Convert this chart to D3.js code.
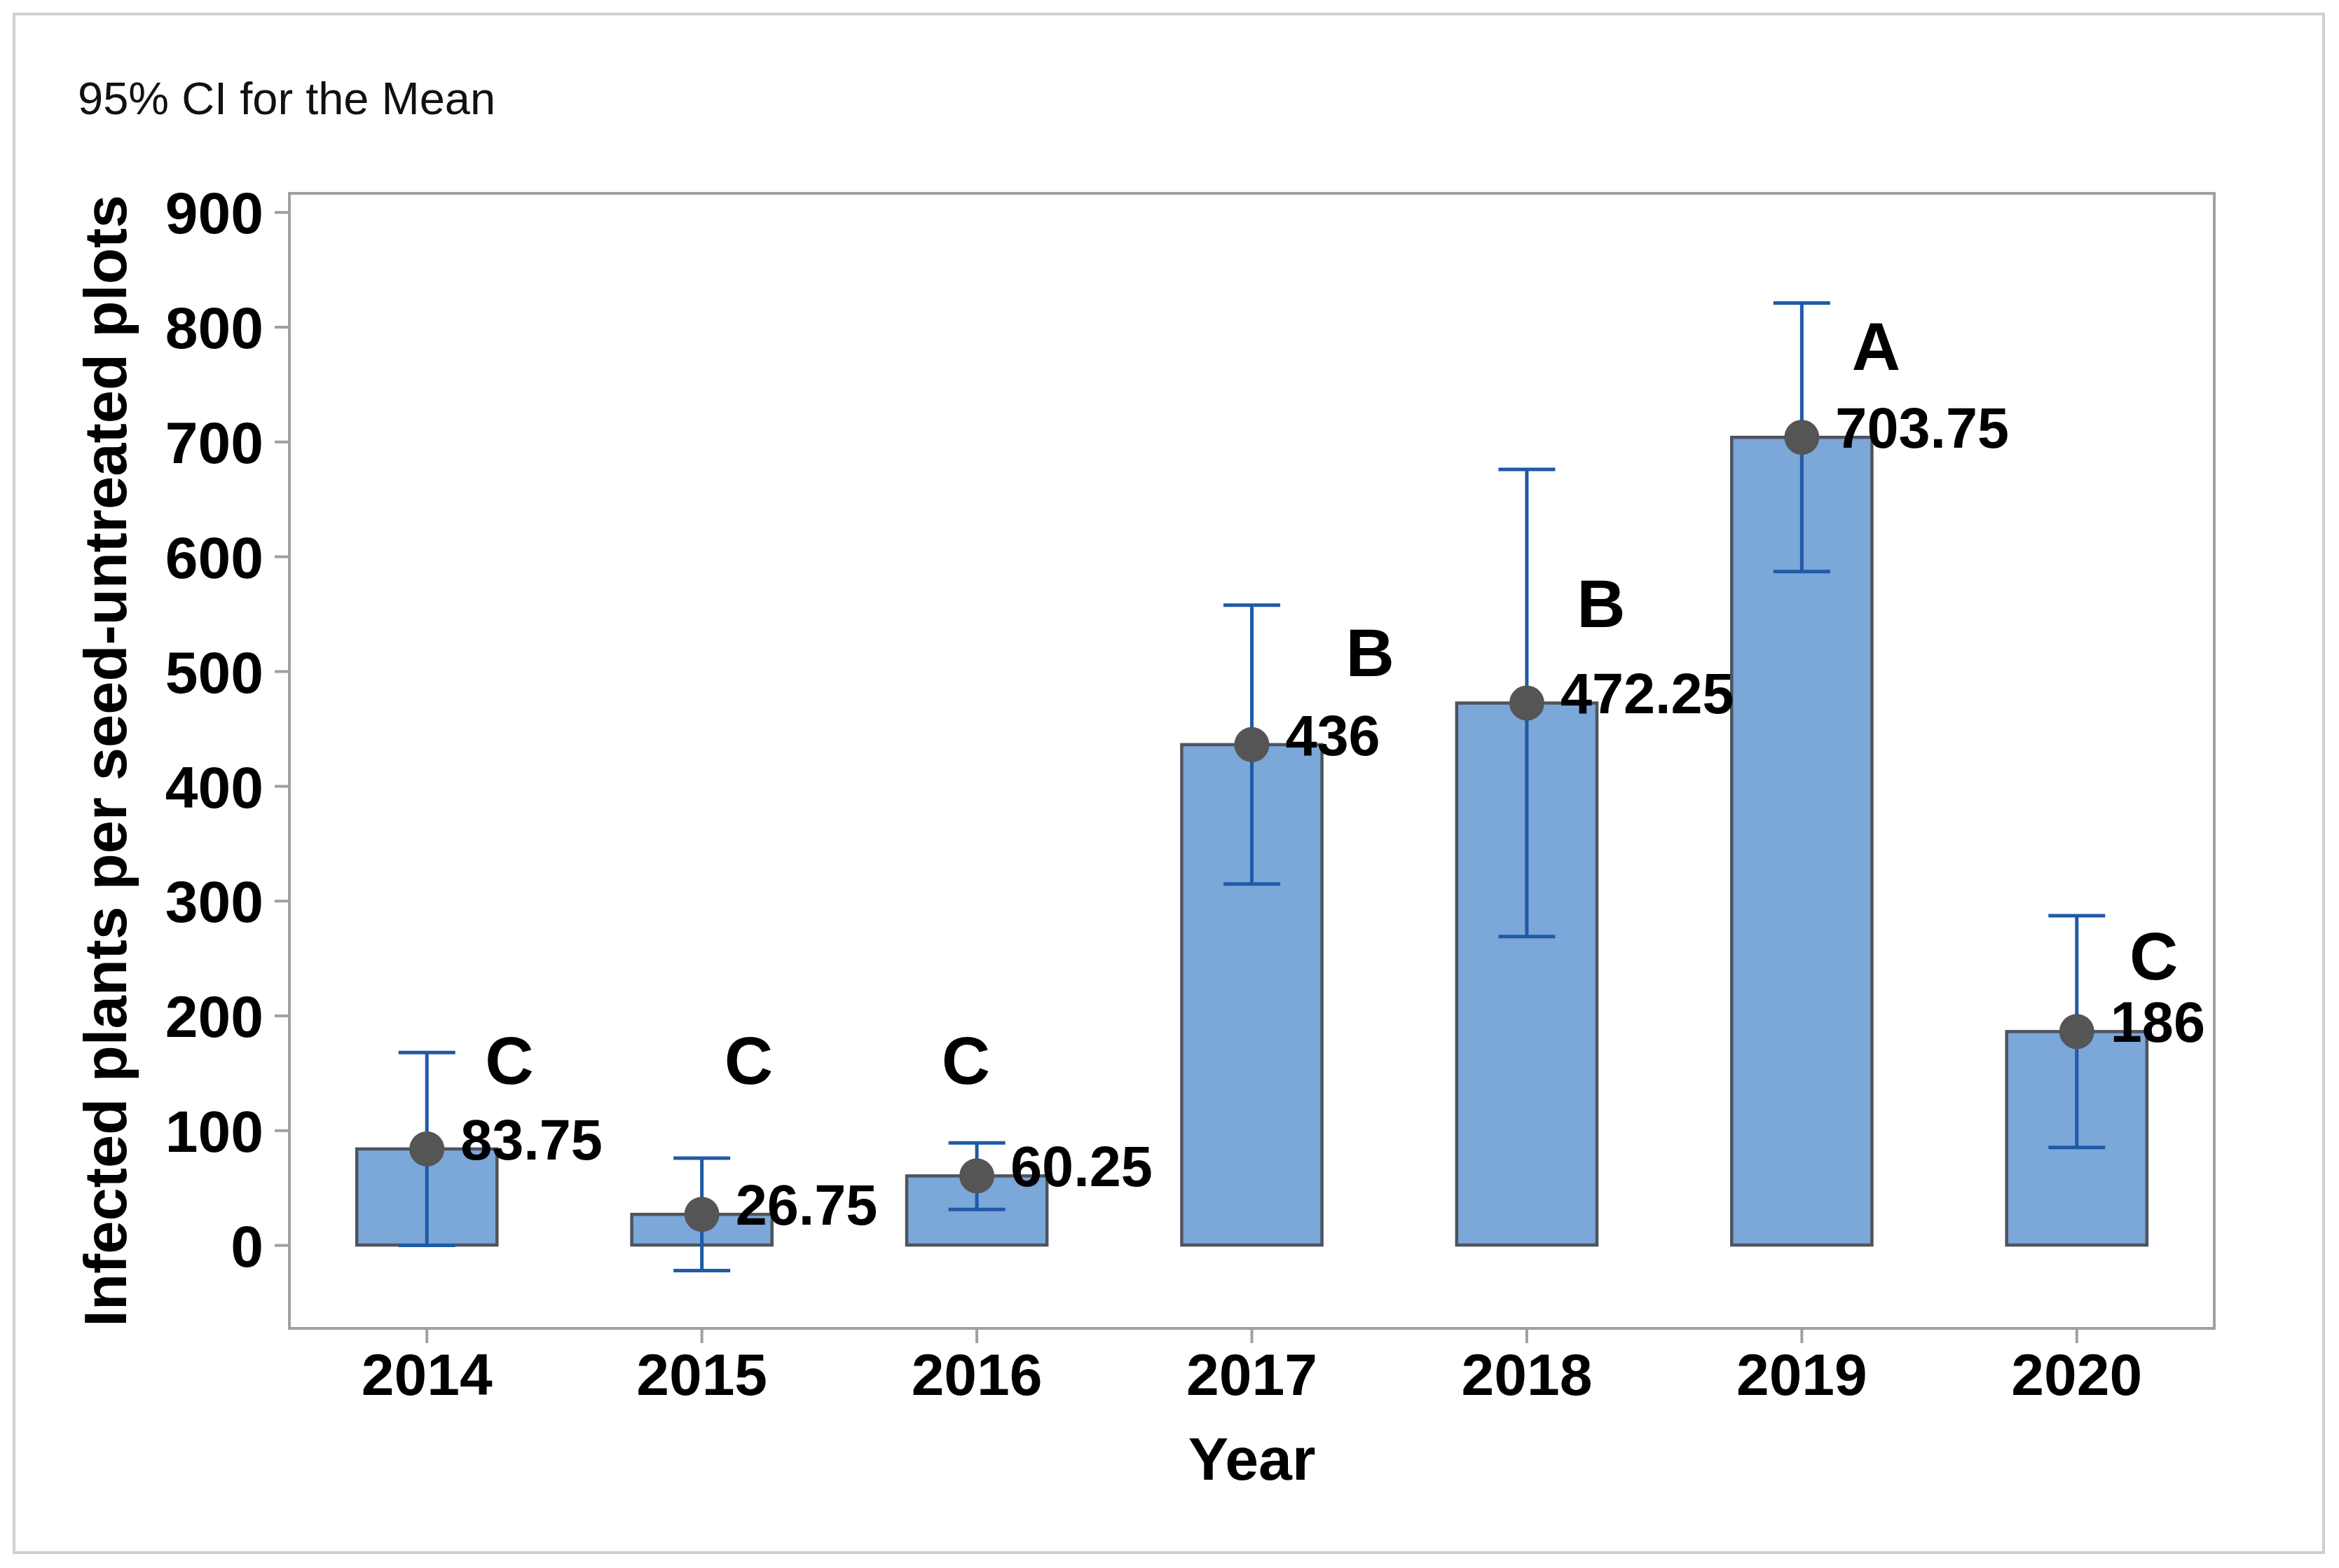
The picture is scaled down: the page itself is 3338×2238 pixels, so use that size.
<!DOCTYPE html>
<html>
<head>
<meta charset="utf-8">
<script src="https://cdn.jsdelivr.net/npm/d3@7"></script>
<style>
  body { margin: 0; background: #fff; }
  svg { display: block; font-family: "Liberation Sans", Arial, sans-serif; }
</style>
</head>
<body>
<div class="chartDiv"></div>
<script>
// data
var years = ["2014", "2015", "2016", "2017", "2018", "2019", "2020"];
var means = [83.75, 26.75, 60.25, 436, 472.25, 703.75, 186];
var ciLow = [-0.25, -22.25, 31, 314.5, 268.75, 586.75, 85];
var ciHigh = [167.75, 75.75, 89, 557.5, 675.75, 820.75, 287];
var groups = ["C", "C", "C", "B", "B", "A", "C"];
// where each group letter sits (value on y, shift in steps on x)
var letterAt = [162, 162, 162, 517, 560, 784, 253];
var letterShift = [0.30, 0.17, -0.04, 0.43, 0.27, 0.27, 0.28];
var yTicks = [0, 100, 200, 300, 400, 500, 600, 700, 800, 900];

var W = 3338, H = 2238;
var margin = { top: 276, right: 178, bottom: 342, left: 413 };
var width = W - margin.left - margin.right;
var height = H - margin.top - margin.bottom;

var svg = d3.select(".chartDiv")
  .append("svg")
  .attr("width", W)
  .attr("height", H);

// outer frame
svg.append("rect")
  .attr("x", 20).attr("y", 20)
  .attr("width", 3296).attr("height", 2196)
  .attr("fill", "#fff")
  .attr("stroke", "#cfcfcf")
  .attr("stroke-width", 4);

svg.append("text")
  .attr("x", 111).attr("y", 163)
  .style("font-size", "65px")
  .attr("fill", "#111")
  .text("95% CI for the Mean");

var g = svg.append("g")
  .attr("transform", "translate(" + margin.left + "," + margin.top + ")");

// scales
var xScale = d3.scaleBand()
  .domain(years)
  .range([0, width])
  .paddingInner(0.49)
  .paddingOuter(0.245);

var yScale = d3.scaleLinear()
  .domain([-72.6, 916.3])
  .range([height, 0]);

var step = xScale.step();
var cx = function(i) { return xScale(years[i]) + xScale.bandwidth() / 2; };

// axes
var xAxis = g.append("g")
  .attr("transform", "translate(0," + height + ")")
  .call(d3.axisBottom(xScale).tickSize(21).tickPadding(14));

var yAxis = g.append("g")
  .call(d3.axisLeft(yScale).tickValues(yTicks).tickSize(21).tickPadding(16));

[xAxis, yAxis].forEach(function(a) {
  a.select(".domain").remove();
  a.selectAll(".tick line").attr("stroke", "#a0a0a0").attr("stroke-width", 4);
  a.selectAll(".tick text")
    .attr("fill", "#000")
    .style("font-size", "84px")
    .style("font-weight", "bold")
    .style("font-family", "'Liberation Sans', Arial, sans-serif");
});
xAxis.selectAll(".tick text").attr("dy", "0.71em");
yAxis.selectAll(".tick text").attr("dy", "0.36em");

// plot frame
g.append("rect")
  .attr("x", 0).attr("y", 0)
  .attr("width", width).attr("height", height)
  .attr("fill", "none")
  .attr("stroke", "#a0a0a0")
  .attr("stroke-width", 4);

// bars
g.selectAll(".bar")
  .data(means)
  .enter()
  .append("rect")
  .attr("class", "bar")
  .attr("x", (d, i) => xScale(years[i]))
  .attr("y", d => yScale(d))
  .attr("width", xScale.bandwidth())
  .attr("height", d => yScale(0) - yScale(d))
  .attr("fill", "#7ba7d9")
  .attr("stroke", "#4e545c")
  .attr("stroke-width", 4.5);

// error bars
var capW = 81;
var eb = g.append("g").attr("stroke", "#1f5aa6").attr("stroke-width", 5);
eb.selectAll(".stem").data(means).enter().append("line")
  .attr("x1", (d, i) => cx(i)).attr("x2", (d, i) => cx(i))
  .attr("y1", (d, i) => yScale(ciLow[i]))
  .attr("y2", (d, i) => yScale(ciHigh[i]));
eb.selectAll(".capHi").data(means).enter().append("line")
  .attr("x1", (d, i) => cx(i) - capW / 2).attr("x2", (d, i) => cx(i) + capW / 2)
  .attr("y1", (d, i) => yScale(ciHigh[i])).attr("y2", (d, i) => yScale(ciHigh[i]));
eb.selectAll(".capLo").data(means).enter().append("line")
  .attr("x1", (d, i) => cx(i) - capW / 2).attr("x2", (d, i) => cx(i) + capW / 2)
  .attr("y1", (d, i) => yScale(ciLow[i])).attr("y2", (d, i) => yScale(ciLow[i]));

// mean dots
g.selectAll(".dot")
  .data(means)
  .enter()
  .append("circle")
  .attr("cx", (d, i) => cx(i))
  .attr("cy", d => yScale(d))
  .attr("r", 25)
  .attr("fill", "#555555");

// mean labels
g.selectAll(".val")
  .data(means)
  .enter()
  .append("text")
  .attr("x", (d, i) => cx(i) + 48)
  .attr("y", d => yScale(d) + 15)
  .style("font-size", "81px")
  .style("font-weight", "bold")
  .attr("fill", "#000")
  .text(d => d);

// group letters
g.selectAll(".grp")
  .data(groups)
  .enter()
  .append("text")
  .attr("x", (d, i) => cx(i) + letterShift[i] * step)
  .attr("y", (d, i) => yScale(letterAt[i]) + 35)
  .attr("text-anchor", "middle")
  .style("font-size", "96px")
  .style("font-weight", "bold")
  .attr("fill", "#000")
  .text(d => d);

// axis titles
svg.append("text")
  .attr("x", margin.left + width / 2)
  .attr("y", 2112)
  .attr("text-anchor", "middle")
  .style("font-size", "86px")
  .style("font-weight", "bold")
  .text("Year");

svg.append("text")
  .attr("transform", "translate(180," + (margin.top + height / 2) + ") rotate(-90)")
  .attr("text-anchor", "middle")
  .style("font-size", "85px")
  .style("font-weight", "bold")
  .text("Infected plants per seed-untreated plots");
</script>
</body>
</html>
